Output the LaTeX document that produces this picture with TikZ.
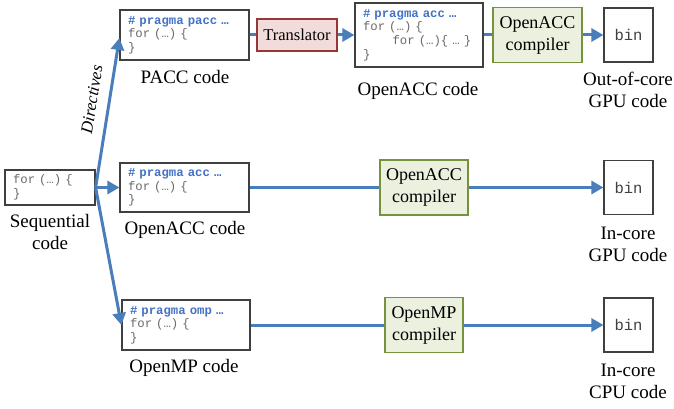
\documentclass[tikz,border=0pt]{standalone}
\usepackage{fontspec}
\setmainfont{Liberation Serif}
\setmonofont{Liberation Mono}
\usetikzlibrary{arrows.meta}

\definecolor{flowblue}{RGB}{74,126,187}
\definecolor{pragmablue}{RGB}{68,114,196}
\definecolor{codegray}{RGB}{105,105,105}
\definecolor{transfill}{RGB}{242,220,219}
\definecolor{transline}{RGB}{149,55,53}
\definecolor{compfill}{RGB}{235,241,222}
\definecolor{compline}{RGB}{118,146,60}

\newcommand{\pragmaline}[1]{{\color{pragmablue}\bfseries\# pragma #1 …}}

\tikzset{
  codebox/.style={draw=black!75, line width=1.2pt, fill=white, inner xsep=8pt, inner ysep=0pt,
    align=left, text=codegray, font=\fontsize{12.3}{13.7}\selectfont\ttfamily},
  binbox/.style={draw=black!75, line width=1.2pt, fill=white, minimum width=49pt, minimum height=54pt,
    inner sep=0pt, text=black!75, font=\fontsize{15.5}{17}\selectfont\ttfamily},
  compbox/.style={draw=compline, fill=compfill, line width=1.8pt, inner sep=0pt, align=center,
    minimum height=55pt, font=\fontsize{18}{22}\selectfont},
  transbox/.style={draw=transline, fill=transfill, line width=1.8pt, inner sep=0pt,
    minimum width=80pt, minimum height=32pt, font=\fontsize{16.5}{18}\selectfont},
  lbl/.style={align=center, inner sep=0pt, font=\fontsize{19}{22}\selectfont},
  flowline/.style={draw=flowblue, line width=3pt},
  flowarrow/.style={flowline, -{Triangle[length=12pt,width=13pt]}}
}

\begin{document}
\begin{tikzpicture}[x=1pt,y=-1pt]
    \useasboundingbox (0,0) rectangle (674,409);

    % sequential code
    \node[codebox, text width=74pt, minimum height=35pt] (seq) at (50,187.5) {for (…) \{\\\}};
    \node[lbl] (seqlbl) at (50,232) {Sequential\\code};

    % upper row: PACC -> translator -> OpenACC -> compiler -> bin
    \node[codebox, text width=113pt, minimum height=50pt] (pacc) at (184.5,35)
        {\pragmaline{pacc}\\for (…) \{\\\}};
    \node[lbl] (pacclbl) at (185,77) {PACC code};
    \node[transbox] (trans) at (297,35) {Translator};
    \node[codebox, text width=112pt, minimum height=64pt] (acctop) at (419,35)
        {\pragmaline{acc}\\for (…) \{\\\phantom{xxxx}for (…)\{ … \}\\\}};
    \node[lbl] (acctoplbl) at (418,91) {OpenACC code};
    \node[compbox, minimum width=89pt] (comptop) at (537.5,35) {OpenACC\\compiler};
    \node[binbox] (bintop) at (628.5,35) {bin};
    \node[lbl] (bintoplbl) at (628,90) {Out-of-core\\GPU code};

    % middle row: OpenACC
    \node[codebox, text width=113pt, minimum height=49pt] (acc) at (184.5,187.5)
        {\pragmaline{acc}\\for (…) \{\\\}};
    \node[lbl] (acclbl) at (185,230) {OpenACC code};
    \node[compbox, minimum width=88pt] (compacc) at (424,187.5) {OpenACC\\compiler};
    \node[binbox] (binacc) at (628.5,187.5) {bin};
    \node[lbl] (binacclbl) at (628,244) {In-core\\GPU code};

    % lower row: OpenMP
    \node[codebox, text width=112pt, minimum height=50pt] (omp) at (186,325)
        {\pragmaline{omp}\\for (…) \{\\\}};
    \node[lbl] (omplbl) at (184,368) {OpenMP code};
    \node[compbox, minimum width=78pt] (compomp) at (424,325) {OpenMP\\compiler};
    \node[binbox] (binomp) at (628.5,325) {bin};
    \node[lbl] (binomplbl) at (628,381) {In-core\\CPU code};

    % branches out of the sequential code
    \draw[flowarrow] (seq.east) -- ([yshift=-3pt]pacc.west)
        node[pos=0.57, sloped, above=7pt, font=\fontsize{17}{19}\selectfont\itshape] (dirlbl) {Directives};
    \draw[flowarrow] (seq.east) -- (acc.west);
    \draw[flowarrow] (seq.east) -- (omp.west);

    % rows
    \draw[flowline] (pacc) -- (trans);
    \draw[flowarrow] (trans) -- (acctop);
    \draw[flowline] (acctop) -- (comptop);
    \draw[flowarrow] (comptop) -- (bintop);

    \draw[flowline] (acc) -- (compacc);
    \draw[flowarrow] (compacc) -- (binacc);

    \draw[flowline] (omp) -- (compomp);
    \draw[flowarrow] (compomp) -- (binomp);
\end{tikzpicture}
\end{document}
